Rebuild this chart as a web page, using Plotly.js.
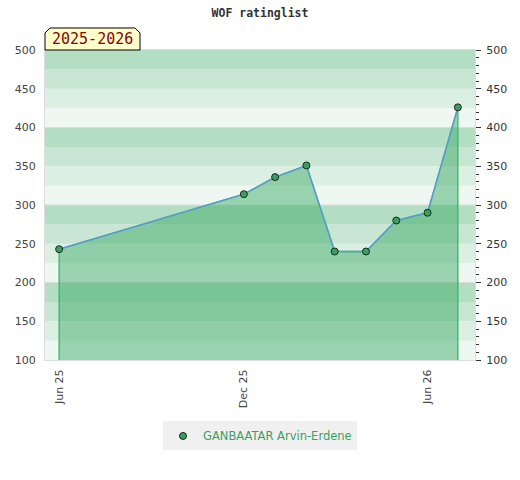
<!DOCTYPE html>
<html><head><meta charset="utf-8">
<script src="https://cdn.plot.ly/plotly-3.0.1.min.js"></script>
<style>body{margin:0;background:#fff}</style>
</head><body>
<div id="chart" style="width:520px;height:480px"></div>
<script>
const dates = ["2025-06-01","2025-12-01","2026-01-01","2026-02-01","2026-03-01","2026-04-01","2026-05-01","2026-06-01","2026-07-01"];
const ratings = [243, 314, 336, 351, 240, 240, 280, 290, 426];
const playerName = "GANBAATAR Arvin-Erdene";
const seasonLabel = "2025-2026";
const tickDates = ["2025-06-01","2025-12-01","2026-06-01"];
const tickLabels = ["Jun 25","Dec 25","Jun 26"];
const yMin = 100, yMax = 500;

const bandColors = ["#eff7f2","#dcefe3","#c8e6d3","#b3dec4"];
const shapes = [];
for (let v = yMin; v < yMax; v += 25) {
  shapes.push({type:"rect", xref:"paper", yref:"y", x0:0, x1:1, y0:v, y1:v+25,
    fillcolor: bandColors[((v - yMin)/25) % 4], line:{width:0}, layer:"below"});
}
for (let v = yMin + 100; v < yMax; v += 100) {
  shapes.push({type:"line", xref:"paper", yref:"y", x0:0, x1:1, y0:v, y1:v,
    line:{color:"#dddddd", width:1}, layer:"between"});
}
// season label box with cut corners
shapes.push({type:"path", xref:"paper", yref:"paper",
  path:"M0,1 L0,1.055 L0.0116,1.071 L0.209,1.071 L0.221,1.055 L0.221,1 Z",
  fillcolor:"#ffffcc", line:{color:"#000", width:1}, layer:"above"});

const fillX = [dates[0], ...dates, dates[dates.length-1]];
const fillY = [yMin, ...ratings, yMin];

const traces = [
  {x: fillX, y: fillY, type:"scatter", mode:"lines", fill:"toself",
   fillcolor:"rgba(59,170,100,0.48)", line:{color:"#30b864", width:1.3},
   showlegend:false, hoverinfo:"skip"},
  {x: dates, y: ratings, type:"scatter", mode:"lines", showlegend:false,
   line:{color:"#5b9bd5", width:1.5}, hoverinfo:"skip"},
  {x: dates, y: ratings, type:"scatter", mode:"markers", name: playerName,
   marker:{color:"#3a9f5e", size:7, line:{color:"#1a2a20", width:1}}},
  {x: dates, y: ratings, yaxis:"y2", type:"scatter", mode:"markers",
   marker:{opacity:0}, showlegend:false, hoverinfo:"skip"}
];

const layout = {
  width:520, height:480,
  margin:{l:45, r:45, t:50, b:120},
  paper_bgcolor:"#fff", plot_bgcolor:"rgba(0,0,0,0)",
  title:{text:"<b>WOF ratinglist</b>", x:0.5, xanchor:"center", y:0.972, yanchor:"middle",
    font:{family:"DejaVu Sans Mono", size:11.5, color:"#333"}},
  xaxis:{type:"date", range:["2025-05-18","2026-07-18"], tickvals:tickDates, ticktext:tickLabels,
    tickangle:-90, showgrid:false, zeroline:false, ticks:"", showline:true, linecolor:"#dddddd",
    mirror:true, ticklabelstandoff:4, tickfont:{family:"DejaVu Sans", size:11, color:"#444"}},
  yaxis:{range:[yMin,yMax], dtick:50, showgrid:false, zeroline:false, ticks:"",
    showline:true, linecolor:"#dddddd", mirror:true, ticklabelstandoff:6,
    tickfont:{family:"DejaVu Sans", size:11, color:"#444"}},
  yaxis2:{range:[yMin,yMax], dtick:50, overlaying:"y", side:"right", showgrid:false, zeroline:false,
    ticks:"outside", ticklen:5, tickcolor:"#333", tickwidth:1, ticklabelstandoff:3,
    minor:{dtick:10, ticks:"outside", ticklen:3, tickcolor:"#333", showgrid:false},
    tickfont:{family:"DejaVu Sans", size:11, color:"#333"}},
  shapes: shapes,
  annotations:[{xref:"paper", yref:"paper", x:0.1105, y:1.035, text:seasonLabel, showarrow:false,
    xanchor:"center", yanchor:"middle",
    font:{family:"DejaVu Sans Mono", size:15, color:"#8b0000"}}],
  legend:{orientation:"h", x:0.5, xanchor:"center", y:-0.245, yanchor:"middle",
    bgcolor:"#f0f0f0", itemwidth:30, font:{family:"DejaVu Sans", size:11.5, color:"#3aa060"}},
  showlegend:true
};
Plotly.newPlot("chart", traces, layout, {staticPlot:true});
</script>
</body></html>
